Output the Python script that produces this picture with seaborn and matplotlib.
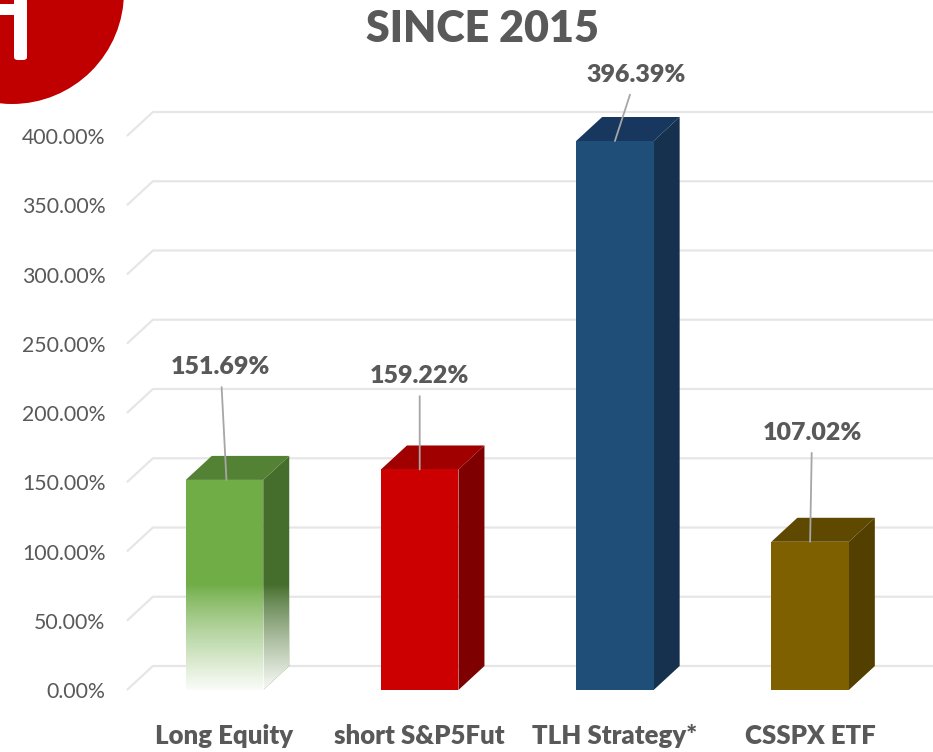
import numpy as np
import pandas as pd
import matplotlib
matplotlib.use("Agg")
import matplotlib.pyplot as plt
import seaborn as sns
from matplotlib.patches import Polygon, Ellipse, Rectangle, FancyBboxPatch
import warnings

warnings.filterwarnings('ignore')

# Datos del grafico
categorias = ["Long Equity", "short S&P5Fut", "TLH Strategy*", "CSSPX ETF"]
rendimientos = [151.69, 159.22, 396.39, 107.02]
ticks_y = [0, 50, 100, 150, 200, 250, 300, 350, 400]
etiquetas_y = ["0.00%", "50.00%", "100.00%", "150.00%", "200.00%",
               "250.00%", "300.00%", "350.00%", "400.00%"]
titulo = "SINCE 2015"

# Colores (frente, tapa, lateral)
col_frente = ["#70AD47", "#CC0000", "#1F4E79", "#7F6000"]
col_tapa = ["#548235", "#A00000", "#17375E", "#5F4800"]
col_lado = ["#456E2C", "#7F0000", "#15314D", "#534000"]

# Posicion de las etiquetas de datos (x en indice, y en %)
pos_etiquetas = [(-0.02, 233), (1.0, 226.5), (2.11, 444), (3.01, 185.5)]
destino_lineas = [0.01, 1.0, 2.0, 3.0]

sns.set_theme(style="white")
plt.rcParams['font.family'] = ['Lato', 'DejaVu Sans']
GRIS = "#595959"
PESO = "heavy"

fig = plt.figure(figsize=(9.33, 7.52), dpi=100)
ax = fig.add_axes([0, 0, 1, 1])

df = pd.DataFrame({"cat": categorias, "val": rendimientos})
sns.barplot(data=df, x="cat", y="val", hue="cat", palette=col_frente,
            width=0.397, legend=False, ax=ax, saturation=1, zorder=3)

# escala: 0 -> 690 px desde arriba, 400 -> 136 px
ppu = 554 / 400
ax.set_ylim(-62 / ppu, 400 + 136 / ppu)
sp = 195.2
ax.set_xlim(-224.5 / sp, (933 - 224.5) / sp)
ax.axis("off")

dx = 26 / sp
dy = 24 / ppu

# Rejilla con perspectiva
x0 = -0.5
for v in ticks_y:
    ax.plot([x0, x0 + dx, 10], [v, v + dy, v + dy], color="#E6E6E6",
            lw=1.6, zorder=1, solid_capstyle="butt")
for v, t in zip(ticks_y, etiquetas_y):
    ax.text(x0 - 0.11, v - 1.5, t, ha="right", va="center", fontsize=15.3,
            color=GRIS)

# Caras 3D
for i, p in enumerate(ax.patches[:len(categorias)]):
    x, w, h = p.get_x(), p.get_width(), p.get_height()
    lado = Polygon([(x + w, 0), (x + w + dx, dy), (x + w + dx, h + dy), (x + w, h)],
                   closed=True, facecolor=col_lado[i], edgecolor="none", zorder=2.5)
    tapa = Polygon([(x, h), (x + dx, h + dy), (x + w + dx, h + dy), (x + w, h)],
                   closed=True, facecolor=col_tapa[i], edgecolor="none", zorder=2.6)
    ax.add_patch(lado)
    ax.add_patch(tapa)
    p.set_edgecolor("none")
    if i == 0:
        # degradado hacia blanco en la base
        n = 200
        vv = np.linspace(0, 80 + dy, n)
        alpha = np.clip(1 - vv / 76, 0, 1) ** 0.85 * 0.97
        img = np.ones((n, 1, 4))
        img[:, 0, 3] = alpha
        for clip in (p, lado):
            im = ax.imshow(img, extent=[x, x + w + dx, 0, 80 + dy], origin="lower",
                           aspect="auto", zorder=4, interpolation="bilinear")
            im.set_clip_path(clip)

# Etiquetas de datos con lineas guia
for i, v in enumerate(rendimientos):
    ax.annotate(f"{v:.2f}%", xy=(destino_lineas[i], v), xytext=pos_etiquetas[i],
                ha="center", va="center", fontsize=18, fontweight=PESO, color=GRIS,
                arrowprops=dict(arrowstyle="-", color="#A6A6A6", lw=1.3,
                                shrinkA=4, shrinkB=0), zorder=6)

# Etiquetas del eje x
for i, c in enumerate(categorias):
    ax.text(i, -33, c, ha="center", va="center", fontsize=18.5,
            fontweight=PESO, color=GRIS)

# Titulo
fig.text(482 / 933, 1 - 29 / 752, titulo, ha="center", va="center",
         fontsize=31, fontweight=PESO, color=GRIS)

# Logo parcial arriba a la izquierda
r = 112
fig.patches.append(Ellipse((12 / 933, 1 + 8 / 752), 2 * r / 933, 2 * r / 752,
                           transform=fig.transFigure, facecolor="#C00000",
                           edgecolor="none", zorder=5))
fig.patches.append(Rectangle((0, 1 - 15 / 752), 15 / 933, 11 / 752,
                             transform=fig.transFigure, facecolor="white",
                             edgecolor="none", zorder=6))
fig.patches.append(FancyBboxPatch((14 / 933, 1 - 60 / 752), 13 / 933, 62 / 752,
                                  boxstyle="round,pad=0,rounding_size=0.004",
                                  transform=fig.transFigure, facecolor="white",
                                  edgecolor="none", zorder=6))

fig.savefig("out.png", dpi=100)
